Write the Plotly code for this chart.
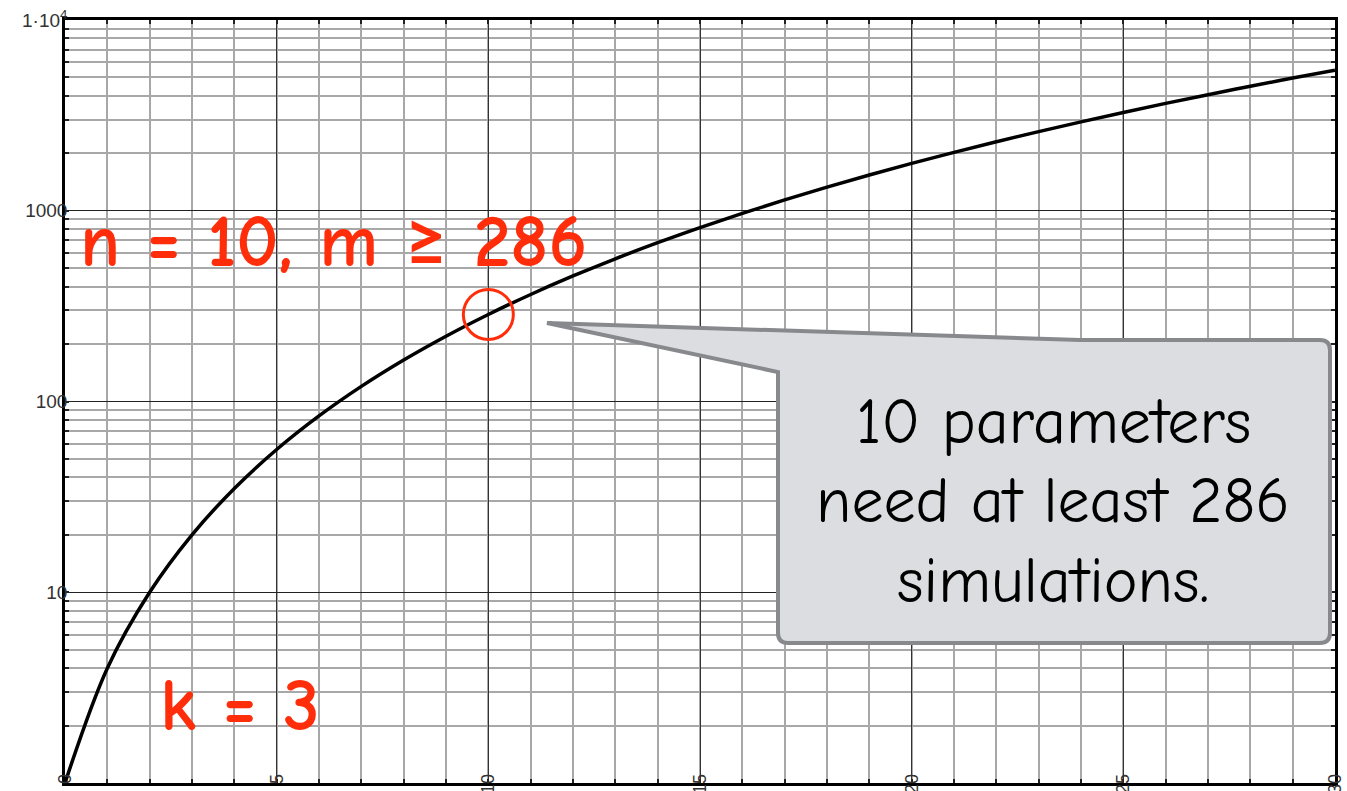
import plotly.graph_objects as go

# Number of simulations m needed for n parameters (k = 3): values at each integer n
n_params = list(range(0, 31))
m_sims = [1, 4, 10, 20, 35, 56, 84, 120, 165, 220, 286, 364, 455, 560, 680,
          816, 969, 1140, 1330, 1540, 1771, 2024, 2300, 2600, 2925, 3276,
          3654, 4060, 4495, 4960, 5456]

x_ticks = [0, 5, 10, 15, 20, 25, 30]
x_tick_text = ["0", "5", "10", "15", "20", "25", "30"]
y_ticks = [10, 100, 1000, 10000]
y_tick_text = ["10", "100", "1000", "1·10<sup>4</sup>"]
y_minor = [d * 10 ** e for e in range(0, 4) for d in range(2, 10)]

highlight_n = 10
highlight_m = 286

W, H = 1347, 791
ML, MR, MT, MB = 65, 12, 20, 8
PW, PH = W - ML - MR, H - MT - MB


def px(x, y):
    """Pixel position -> paper coordinates."""
    return (x - ML) / PW, (H - MB - y) / PH


def path(points):
    out = []
    for cmd, pts in points:
        coords = " ".join("%.5f,%.5f" % px(*p) for p in pts)
        out.append(cmd + coords)
    return " ".join(out) + " Z"


red = "#ff2d0a"
fig = go.Figure()
fig.add_trace(go.Scatter(
    x=n_params, y=m_sims, mode="lines",
    line=dict(color="black", width=3.5, shape="spline", smoothing=1.0),
    hoverinfo="skip", showlegend=False,
))
# red ring around the highlighted point
fig.add_trace(go.Scatter(
    x=[highlight_n], y=[highlight_m], mode="markers",
    marker=dict(symbol="circle-open", size=50, color=red,
                line=dict(color=red, width=3)),
    hoverinfo="skip", showlegend=False,
))

# speech-bubble callout with a pointer towards the highlighted point
bubble = path([
    ("M", [(547, 323)]),
    ("L", [(1080, 340)]),
    ("L", [(1320, 340)]),
    ("Q", [(1330, 340), (1330, 350)]),
    ("L", [(1330, 633)]),
    ("Q", [(1330, 643), (1320, 643)]),
    ("L", [(788, 643)]),
    ("Q", [(778, 643), (778, 633)]),
    ("L", [(778, 372)]),
])
fig.add_shape(type="path", xref="paper", yref="paper", path=bubble,
              fillcolor="#dcdde0", line=dict(color="#87898d", width=4),
              layer="above")

hand = "Comic Neue, Lato, Noto Sans"


def note(text, x, y, size, color, anchor="center", weight="normal"):
    xp, yp = px(x, y)
    fig.add_annotation(text=text, xref="paper", yref="paper", x=xp, y=yp,
                       xanchor=anchor, yanchor="middle", showarrow=False,
                       font=dict(family=hand, size=size, color=color,
                                 weight=weight))


note("n = 10, m ≥ %d" % highlight_m, 78, 242, 74, red, anchor="left",
     weight="bold")
note("k = 3", 240, 706, 74, red, weight="bold")
note("10 parameters", 1053, 422, 64, "black")
note("need at least %d" % highlight_m, 1053, 501, 64, "black")
note("simulations.", 1053, 581, 64, "black")

fig.update_xaxes(
    range=[0, 30], tickvals=x_ticks, ticktext=x_tick_text, tickangle=-90,
    ticks="inside", ticklen=4, tickwidth=2, tickcolor="#222",
    ticklabelstandoff=-19, automargin=False,
    tickfont=dict(family="Liberation Sans", size=18, color="#333"),
    showgrid=True, gridcolor="#333", gridwidth=1,
    minor=dict(dtick=1, tick0=0, showgrid=True, gridcolor="#a8a8a8",
               gridwidth=1.6, ticks="inside", ticklen=4, tickwidth=2,
               tickcolor="#222"),
    showline=True, linecolor="black", linewidth=2.5, mirror="ticks",
    zeroline=False, fixedrange=True,
)
fig.update_yaxes(
    type="log", range=[0, 4], tickvals=y_ticks, ticktext=y_tick_text,
    ticks="inside", ticklen=4, tickwidth=2, tickcolor="#222",
    ticklabelstandoff=-9, automargin=False,
    tickfont=dict(family="Liberation Sans", size=19, color="#333"),
    showgrid=True, gridcolor="#222", gridwidth=1,
    minor=dict(tickmode="array", tickvals=y_minor, showgrid=True,
               gridcolor="#a8a8a8", gridwidth=1.6, ticks="inside",
               ticklen=4, tickwidth=2, tickcolor="#222"),
    showline=True, linecolor="black", linewidth=2.5, mirror="ticks",
    zeroline=False, fixedrange=True,
)
fig.update_layout(
    width=W, height=H, margin=dict(l=ML, r=MR, t=MT, b=MB, autoexpand=False),
    plot_bgcolor="white", paper_bgcolor="white", showlegend=False,
)
fig.write_html("out.html")
